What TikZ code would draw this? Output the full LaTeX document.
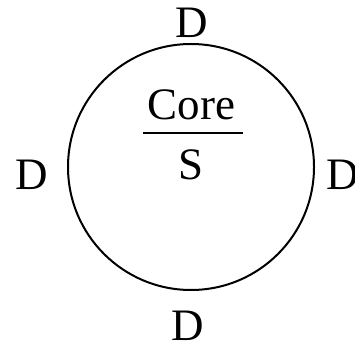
\documentclass[tikz,border=0pt]{standalone}
\usepackage{fontspec}
\setmainfont{Liberation Serif}
\begin{document}
\begin{tikzpicture}[x=1pt,y=-1pt,
  lbl/.style={inner sep=0pt,anchor=base,font=\fontsize{45}{50}\selectfont}]
\useasboundingbox (0,0) rectangle (355,344);
\node[draw,circle,line width=2pt,minimum size=246pt,inner sep=0pt] (c) at (191,167) {};
\node[lbl] (dt) at (192,38) {D};
\node[lbl] (dl) at (32,190) {D};
\node[lbl] (dr) at (343,190) {D};
\node[lbl] (db) at (188,340) {D};
\node[lbl] (core) at (191.5,120) {Core};
\node[lbl] (s) at (191,180) {S};
\coordinate (la) at (143,133);
\coordinate (lb) at (243,133);
\draw[line width=2.5pt] (la) -- (lb);
\end{tikzpicture}
\end{document}
